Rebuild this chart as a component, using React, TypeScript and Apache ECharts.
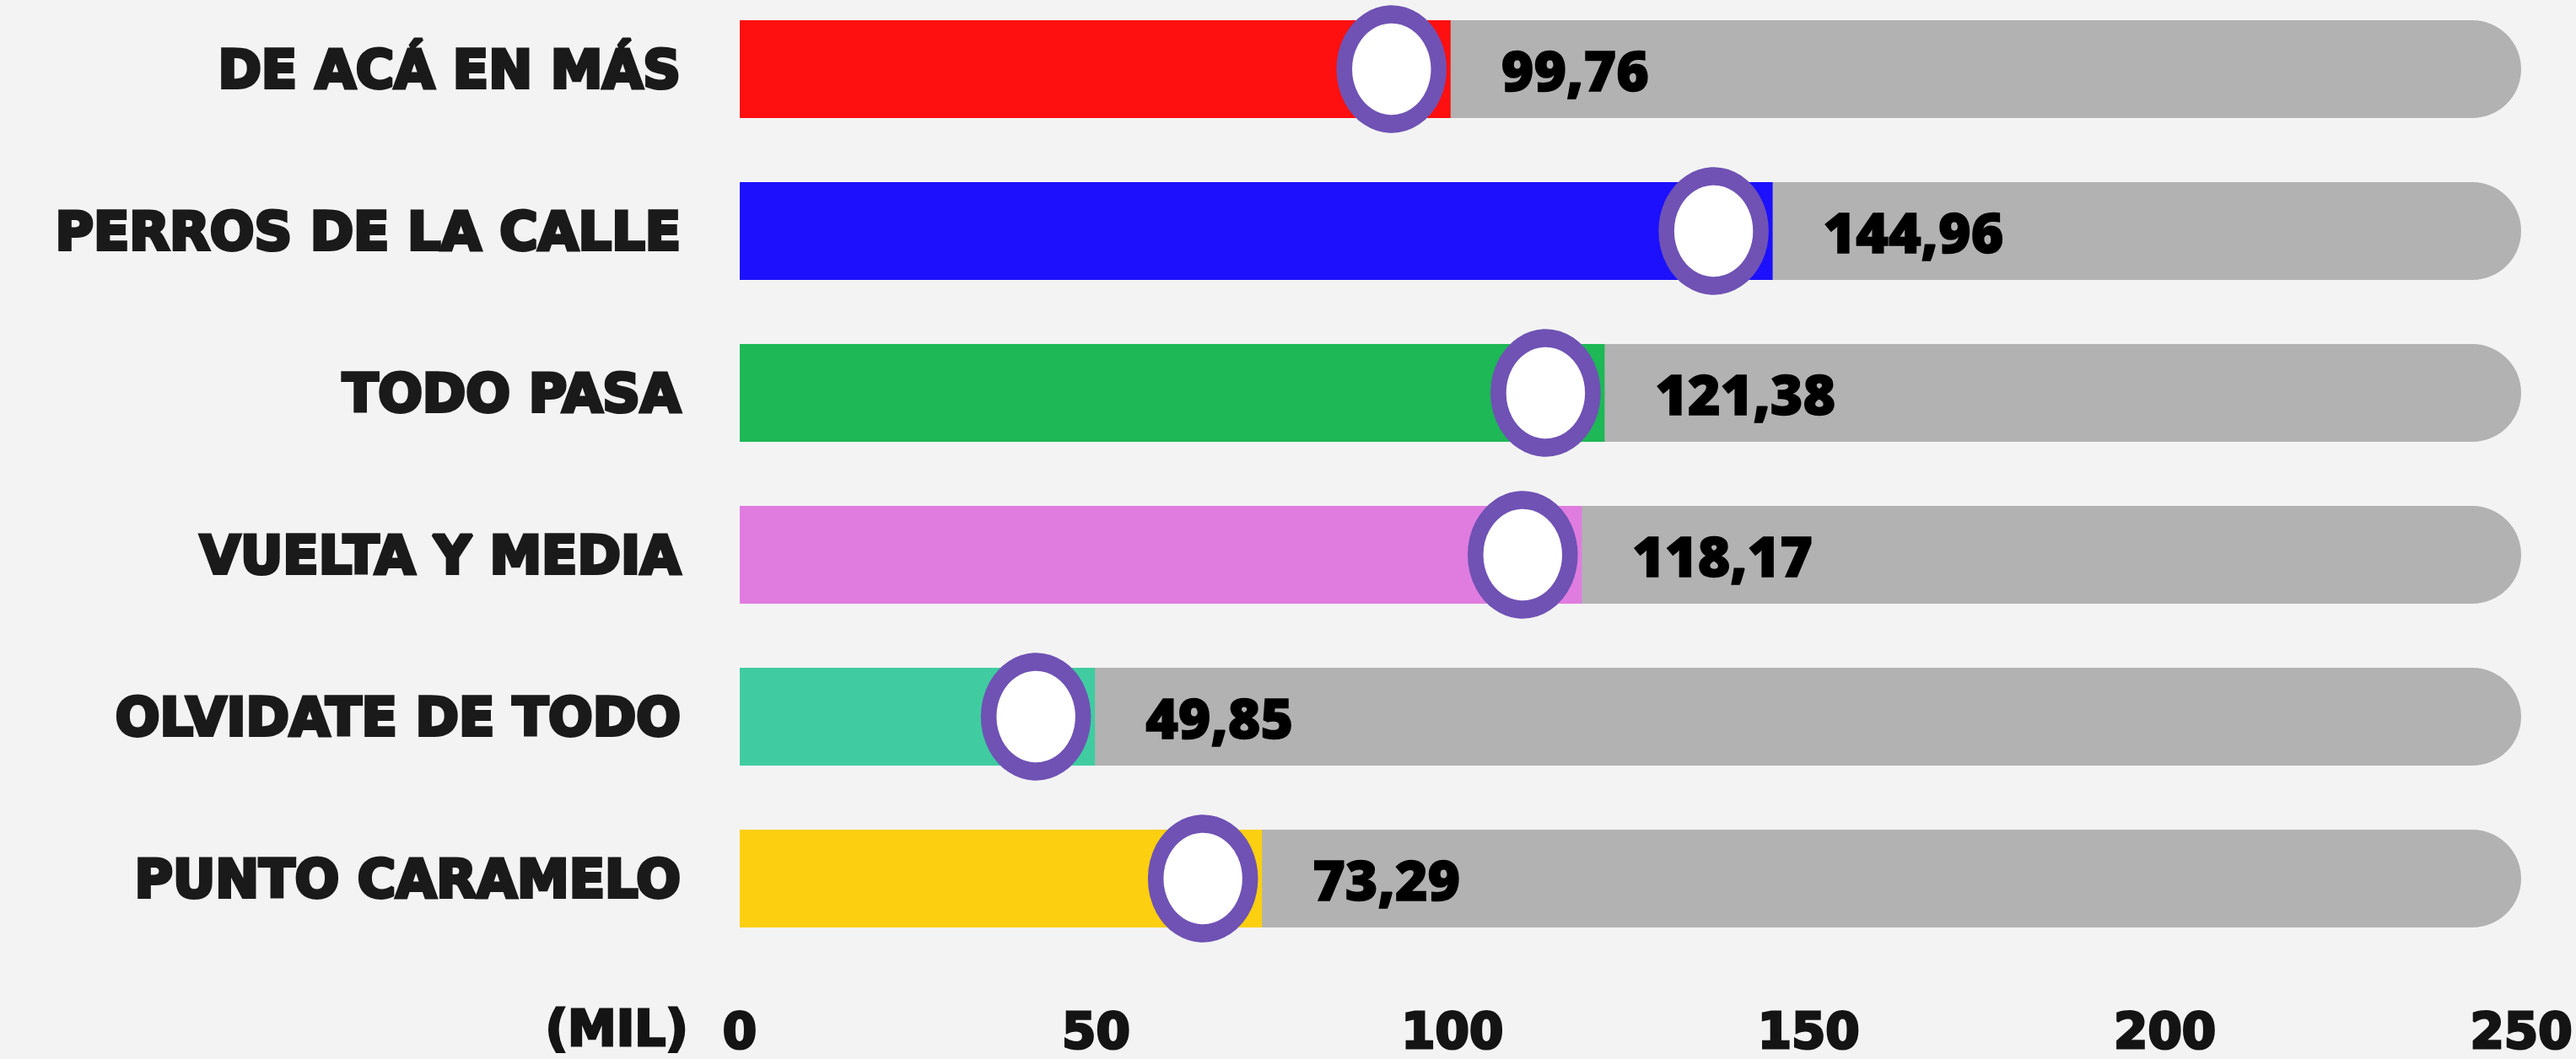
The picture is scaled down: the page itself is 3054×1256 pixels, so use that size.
import React, { useEffect, useRef } from "react";
import * as echarts from "echarts";

const categories = [
  "DE ACÁ EN MÁS",
  "PERROS DE LA CALLE",
  "TODO PASA",
  "VUELTA Y MEDIA",
  "OLVIDATE DE TODO",
  "PUNTO CARAMELO",
];
const values = [99.76, 144.96, 121.38, 118.17, 49.85, 73.29];
const valueLabels = ["99,76", "144,96", "121,38", "118,17", "49,85", "73,29"];
const barColors = ["#fe1010", "#1c10fd", "#1eb856", "#e07ce0", "#40cca0", "#fccf10"];
const tickValues = [0, 50, 100, 150, 200, 250];
const unitLabel = "(MIL)";

export default function App() {
  const ref = useRef<HTMLDivElement>(null);
  useEffect(() => {
    if (!ref.current) return;
    const chart = echarts.init(ref.current, undefined, { renderer: "svg" });
    const labelFont = "'DejaVu Sans', sans-serif";
    chart.setOption({
      animation: false,
      backgroundColor: "#f3f3f3",
      grid: { left: 877, right: 64, top: 0, bottom: 118, containLabel: false },
      xAxis: {
        type: "value",
        min: tickValues[0],
        max: tickValues[tickValues.length - 1],
        interval: 50,
        axisLine: { show: false },
        axisTick: { show: false },
        splitLine: { show: false },
        axisLabel: {
          margin: 56,
          fontFamily: labelFont,
          fontWeight: "bold",
          fontSize: 58,
          color: "#141414",
          textBorderColor: "#141414",
          textBorderWidth: 3,
          formatter: (v: number) => String(v),
        },
      },
      yAxis: {
        type: "category",
        data: categories,
        inverse: true,
        axisLine: { show: false },
        axisTick: { show: false },
        splitLine: { show: false },
        axisLabel: {
          margin: 70,
          fontFamily: labelFont,
          fontWeight: "bold",
          fontSize: 62,
          color: "#1a1a1a",
          textBorderColor: "#1a1a1a",
          textBorderWidth: 4,
        },
      },
      graphic: [
        {
          type: "text",
          left: 645,
          top: 1203,
          style: {
            text: unitLabel,
            fontFamily: labelFont,
            fontWeight: "bold",
            fontSize: 58,
            fill: "#141414",
            stroke: "#141414",
            lineWidth: 3,
          },
        },
      ],
      series: [
        {
          type: "bar",
          barWidth: 116,
          showBackground: true,
          backgroundStyle: { color: "#b2b2b2", borderRadius: [0, 58, 58, 0] },
          data: values.map((v, i) => ({ value: v, itemStyle: { color: barColors[i] } })),
          label: {
            show: true,
            position: "right",
            distance: 60,
            fontFamily: "'Open Sans', sans-serif",
            fontWeight: 800,
            fontSize: 66,
            color: "#000",
            textBorderColor: "#000",
            textBorderWidth: 1.5,
            formatter: (p: any) => valueLabels[p.dataIndex],
          },
          z: 2,
        },
        {
          type: "scatter",
          data: values,
          symbol: "circle",
          symbolSize: [112, 130],
          symbolOffset: [-70, 0],
          itemStyle: { color: "#ffffff", borderColor: "#6f52b4", borderWidth: 20, opacity: 1 },
          z: 5,
        },
      ],
    });
    return () => chart.dispose();
  }, []);
  return (
    <div
      ref={ref}
      style={{ position: "fixed", left: 0, top: -14, width: 3054, height: 1270 }}
    />
  );
}
